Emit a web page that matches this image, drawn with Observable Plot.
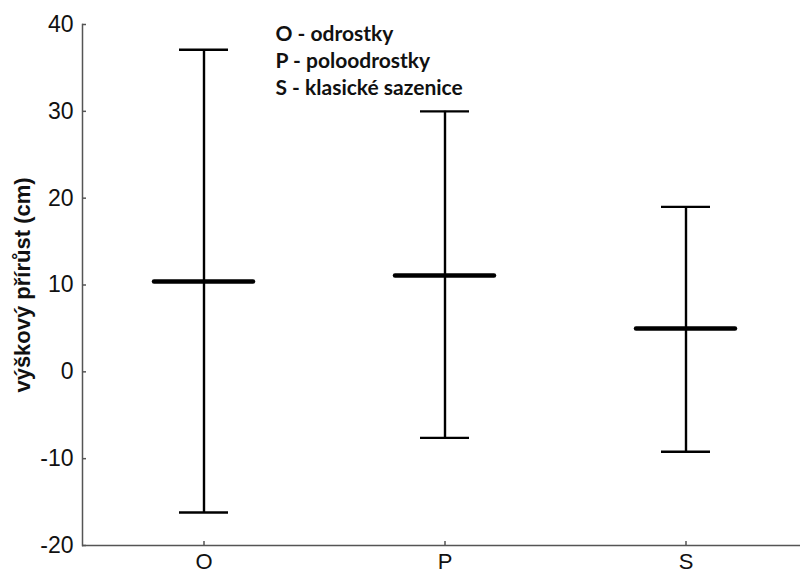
<!DOCTYPE html>
<html>
<head>
<meta charset="utf-8">
<script src="https://cdn.jsdelivr.net/npm/d3@7"></script>
<script src="https://cdn.jsdelivr.net/npm/@observablehq/plot@0.6"></script>
<style>
  html, body { margin: 0; padding: 0; background: #fff; }
  #chart svg { display: block; }
</style>
</head>
<body>
<div id="chart"></div>
<script>
const groups = ["O", "P", "S"];
const means = [10.4, 11.1, 5.0];
const lows = [-16.2, -7.6, -9.2];
const highs = [37.1, 30.0, 19.0];
const yTicks = [-20, -10, 0, 10, 20, 30, 40];
const legendLines = ["O - odrostky", "P - poloodrostky", "S - klasické sazenice"];
const yLabel = "výškový přírůst (cm)";

const data = groups.map((g, i) => ({g, mean: means[i], lo: lows[i], hi: highs[i]}));

const chart = Plot.plot({
  width: 800,
  height: 577,
  marginLeft: 82,
  marginRight: 0,
  marginTop: 24,
  marginBottom: 32,
  style: {fontFamily: "Liberation Sans, Arial, sans-serif", background: "#fff", color: "#111"},
  x: {type: "band", domain: groups, range: [82, 807], padding: 0},
  y: {domain: [-20, 40], ticks: yTicks},
  marks: [
    Plot.frame({anchor: "left", stroke: "#555", strokeWidth: 1.5}),
    Plot.ruleY([-20], {stroke: "#555", strokeWidth: 1.5}),
    Plot.axisY(yTicks, {tickSize: 0, tickPadding: 9, fontSize: 23, fill: "#111", label: null, tickFormat: d => String(d)}),
    Plot.axisY(yTicks, {text: null, tickSize: 4, dx: 4, stroke: "#555", strokeWidth: 1.5, label: null}),
    Plot.axisX({tickSize: 0, tickPadding: 8, fontSize: 22, fill: "#111", label: null}),
    Plot.axisX({text: null, tickSize: 4, dy: -4, stroke: "#555", strokeWidth: 1.5, label: null}),
    Plot.text([yLabel], {frameAnchor: "left", textAnchor: "middle", rotate: -90, dx: -60, fontSize: 22, fontWeight: "bold", fill: "#111"}),
    Plot.ruleX(data, {x: "g", y1: "lo", y2: "hi", stroke: "#000", strokeWidth: 2.4}),
    Plot.tickY(data, {x: "g", y: "hi", stroke: "#000", strokeWidth: 2.4, insetLeft: 96, insetRight: 96}),
    Plot.tickY(data, {x: "g", y: "lo", stroke: "#000", strokeWidth: 2.4, insetLeft: 96, insetRight: 96}),
    Plot.tickY(data, {x: "g", y: "mean", stroke: "#000", strokeWidth: 4.5, strokeLinecap: "round", insetLeft: 71, insetRight: 71}),
    Plot.text([legendLines.join("\n")], {frameAnchor: "top-left", dx: 193, dy: -3, lineAnchor: "top", textAnchor: "start", lineHeight: 1.29, fontSize: 21, fontWeight: "bold", fill: "#111", fontFamily: "Lato, 'Open Sans', sans-serif"})
  ]
});
document.getElementById("chart").appendChild(chart);
</script>
</body>
</html>
